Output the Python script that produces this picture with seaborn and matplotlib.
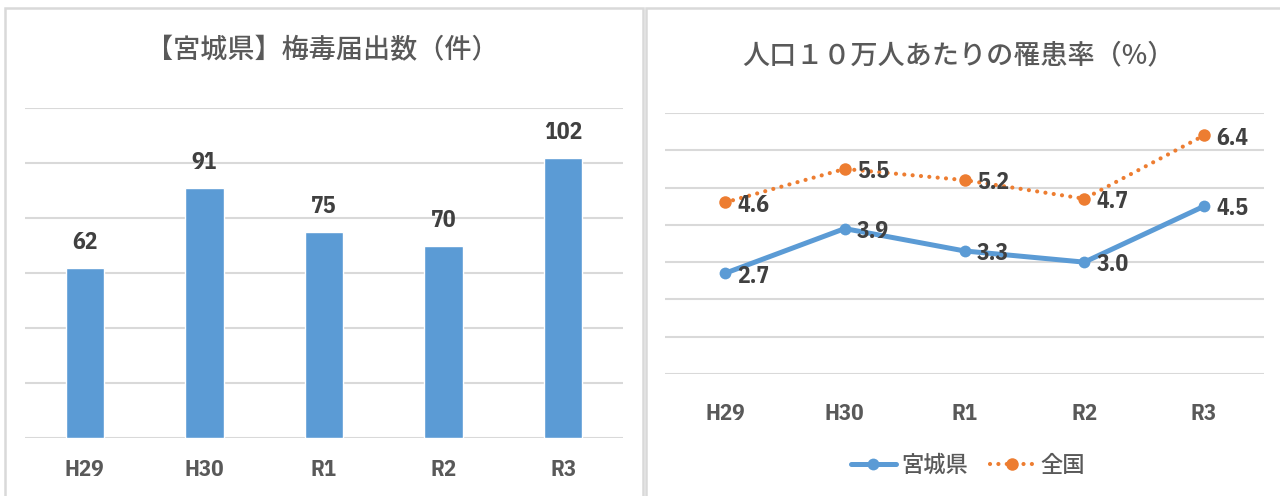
import matplotlib
matplotlib.use("Agg")
import matplotlib.pyplot as plt
import seaborn as sns
import pandas as pd
from matplotlib.patches import Rectangle

years = ["H29", "H30", "R1", "R2", "R3"]
counts = [62, 91, 75, 70, 102]
miyagi_rate = [2.7, 3.9, 3.3, 3.0, 4.5]
national_rate = [4.6, 5.5, 5.2, 4.7, 6.4]
series_names = ["宮城県", "全国"]
title_left = "【宮城県】梅毒届出数（件）"
title_right = "人口１０万人あたりの罹患率（%）"

sns.set_theme(style="white")
CJK = ["Noto Sans CJK JP", "DejaVu Sans"]
NUM = ["IBM Plex Sans Condensed", "Liberation Sans Narrow", "DejaVu Sans"]
plt.rcParams["font.family"] = CJK

BLUE = "#5B9BD5"
ORANGE = "#ED7D31"
GRID = "#D9D9D9"
TXT = "#595959"
LBL = "#404040"

W, H = 1280, 496
fig = plt.figure(figsize=(12.8, 4.96), dpi=100)

def fx(px):
    return px / W

def fy(py):
    return 1 - py / H

# panel borders
fig.patches.append(Rectangle((fx(5), fy(520)), fx(643) - fx(5), fy(8) - fy(520),
                             transform=fig.transFigure, fill=False, edgecolor=GRID, linewidth=1.8))
fig.patches.append(Rectangle((fx(646), fy(520)), fx(1320) - fx(646), fy(8) - fy(520),
                             transform=fig.transFigure, fill=False, edgecolor=GRID, linewidth=1.8))

# ---------- left: bar chart ----------
ax1 = fig.add_axes([fx(25), fy(438), fx(623) - fx(25), fy(108) - fy(438)])
df_bar = pd.DataFrame({"year": years, "count": counts})
sns.barplot(data=df_bar, x="year", y="count", color=BLUE, width=0.32,
            saturation=1, ax=ax1, zorder=3)
ax1.set_ylim(0, 120)
ax1.set_yticks(range(0, 121, 20))
ax1.yaxis.grid(True, color=GRID, linewidth=1.5, zorder=0)
ax1.set_axisbelow(True)
ax1.set_yticklabels([])
ax1.tick_params(axis="y", length=0)
ax1.tick_params(axis="x", length=0, pad=15)
ax1.set_xlabel("")
ax1.set_ylabel("")
for s in ax1.spines.values():
    s.set_visible(False)
for lab in ax1.get_xticklabels():
    lab.set_family(NUM)
    lab.set_fontweight("bold")
    lab.set_fontsize(16.5)
    lab.set_color(TXT)
for i, v in enumerate(counts):
    ax1.annotate(str(v), (i, v), xytext=(0, 10), textcoords="offset points",
                 ha="center", va="bottom", family=NUM, fontweight="bold",
                 fontsize=17, color=LBL)
fig.text(fx(322), fy(51), title_left, ha="center", va="center",
         fontsize=19.5, fontweight="medium", color=TXT, family=CJK)

# ---------- right: line chart ----------
ax2 = fig.add_axes([fx(665), fy(374), fx(1264) - fx(665), fy(113) - fy(374)])
df_line = pd.DataFrame({
    "year": years * 2,
    "rate": miyagi_rate + national_rate,
    "series": [series_names[0]] * len(years) + [series_names[1]] * len(years),
})
d1 = df_line[df_line["series"] == series_names[0]]
d2 = df_line[df_line["series"] == series_names[1]]
sns.lineplot(data=d1, x="year", y="rate", sort=False, ax=ax2, color=BLUE,
             linewidth=3.6, marker="o", markersize=8.5, markeredgewidth=0,
             label=series_names[0], zorder=4)
sns.lineplot(data=d2, x="year", y="rate", sort=False, ax=ax2, color=ORANGE,
             linewidth=3.0, marker="o", markersize=9, markeredgewidth=0,
             dashes=False, label=series_names[1], zorder=4)
line_or = ax2.get_lines()[1]
line_or.set_linestyle((0, (0.01, 2.0)))
line_or.set_dash_capstyle("round")

ax2.set_xlim(-0.5, 4.5)
ax2.set_ylim(0, 7)
ax2.set_yticks(range(0, 8))
ax2.yaxis.grid(True, color=GRID, linewidth=1.5, zorder=0)
ax2.set_axisbelow(True)
ax2.set_yticklabels([])
ax2.tick_params(axis="y", length=0)
ax2.tick_params(axis="x", length=0, pad=21)
ax2.set_xlabel("")
ax2.set_ylabel("")
for s in ax2.spines.values():
    s.set_visible(False)
for lab in ax2.get_xticklabels():
    lab.set_family(NUM)
    lab.set_fontweight("bold")
    lab.set_fontsize(16.5)
    lab.set_color(TXT)
for vals in (miyagi_rate, national_rate):
    for i, v in enumerate(vals):
        ax2.annotate(f"{v:.1f}", (i, v), xytext=(9, -2), textcoords="offset points",
                     ha="left", va="center", family=NUM, fontweight="bold",
                     fontsize=17, color=LBL, zorder=5)

leg = ax2.legend(loc="center", bbox_to_anchor=(fx(968), fy(465)),
                 bbox_transform=fig.transFigure, ncol=2, frameon=False,
                 handlelength=2.0, handletextpad=0.25, columnspacing=1.0,
                 prop={"family": CJK, "size": 16, "weight": "medium"})
for t in leg.get_texts():
    t.set_color(TXT)

fig.text(fx(958), fy(56), title_right, ha="center", va="center",
         fontsize=19.5, fontweight="medium", color=TXT, family=CJK)

fig.savefig("out.png", dpi=100)
